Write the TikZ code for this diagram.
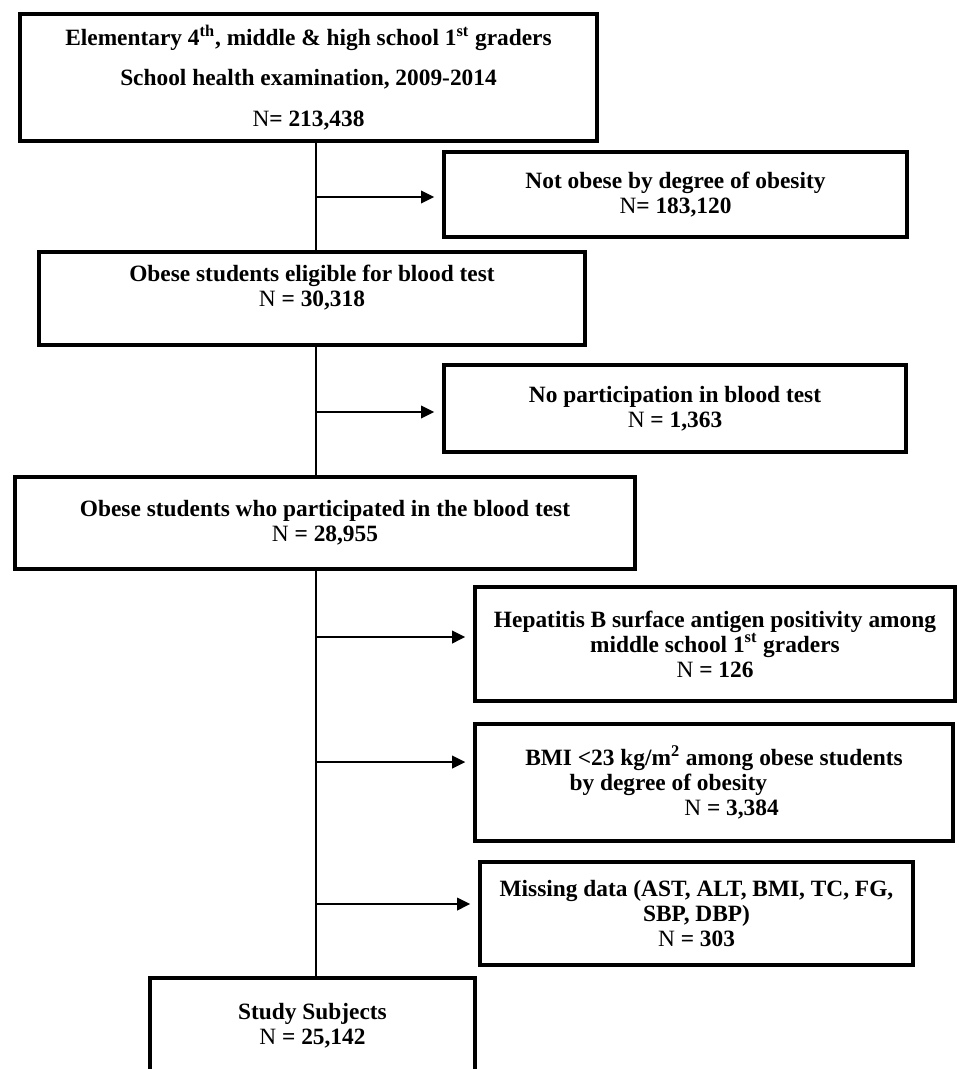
\documentclass[tikz,border=0pt]{standalone}
\usepackage{fontspec}
\setmainfont{Liberation Serif}
\usetikzlibrary{arrows.meta}

\tikzset{
  box/.style={draw, line width=2.3pt, inner sep=0pt, outer sep=0pt, align=center,
    font=\fontsize{13.3}{14.2}\selectfont\bfseries},
  size/.style 2 args={minimum width=#1, minimum height=#2},
  link/.style={line width=1.4pt},
  arr/.style={link, -{Triangle[length=7.5pt,width=7pt]}, shorten >=5.5pt},
}
\newcommand{\NN}{\textmd{N}}

\begin{document}
\begin{tikzpicture}[x=0.02cm,y=-0.02cm]
                \clip (0,0) rectangle (958,1069);
                \node[box, size={11.54cm}{2.54cm}, font=\fontsize{13.3}{23.2}\selectfont\bfseries] (top) at (308.5,77.5)
                    {Elementary 4\textsuperscript{th}, middle \& high school 1\textsuperscript{st} graders\\ School health examination, 2009-2014\\ \NN= 213,438};
                \node[box, size={9.26cm}{1.70cm}] (nob) at (675.5,194.5) {Not obese by degree of obesity\\ \NN= 183,120};
                \node[box, size={10.92cm}{1.86cm}] (elig) at (312,298.5) {Obese students eligible for blood test\\ \NN{} = 30,318\\ ~};
                \node[box, size={9.24cm}{1.74cm}] (nopart) at (675,408.5) {No participation in blood test\\ \NN{} = 1,363};
                \node[box, size={12.40cm}{1.84cm}] (part) at (325,523) {Obese students who participated in the blood test\\ \NN{} = 28,955};
                \node[box, size={9.60cm}{2.28cm}] (hbs) at (715,644)
                    {Hepatitis B surface antigen positivity among\\ middle school 1\textsuperscript{st} graders\\ \NN{} = 126};
                \node[box, size={9.56cm}{2.34cm}] (bmi) at (714,782.5)
                    {BMI <23 kg/m\textsuperscript{2} among obese students\\ by degree of obesity\hspace*{52pt}\mbox{}\\ \hspace*{20pt}\NN{} = 3,384};
                \node[box, size={8.66cm}{2.06cm}] (miss) at (696.5,913.5) {Missing data (AST, ALT, BMI, TC, FG,\\ SBP, DBP)\\ \NN{} = 303};
                \node[box, size={6.50cm}{1.92cm}] (study) at (312.5,1026) {Study Subjects\\ \NN{} = 25,142};
                \coordinate (sp) at (316,0);
                \draw[link] (top.south -| sp) -- (elig.north -| sp);
                \draw[link] (elig.south -| sp) -- (part.north -| sp);
                \draw[link] (part.south -| sp) -- (study.north -| sp);
                \coordinate (k1) at (316,197);
                \coordinate (k2) at (316,412);
                \coordinate (k3) at (316,637);
                \coordinate (k4) at (316,762);
                \coordinate (k5) at (316,904);
                \draw[arr] (k1) -- (k1 -| nob.west);
                \draw[arr] (k2) -- (k2 -| nopart.west);
                \draw[arr] (k3) -- (k3 -| hbs.west);
                \draw[arr] (k4) -- (k4 -| bmi.west);
                \draw[arr] (k5) -- (k5 -| miss.west);
            \end{tikzpicture}
\end{document}
